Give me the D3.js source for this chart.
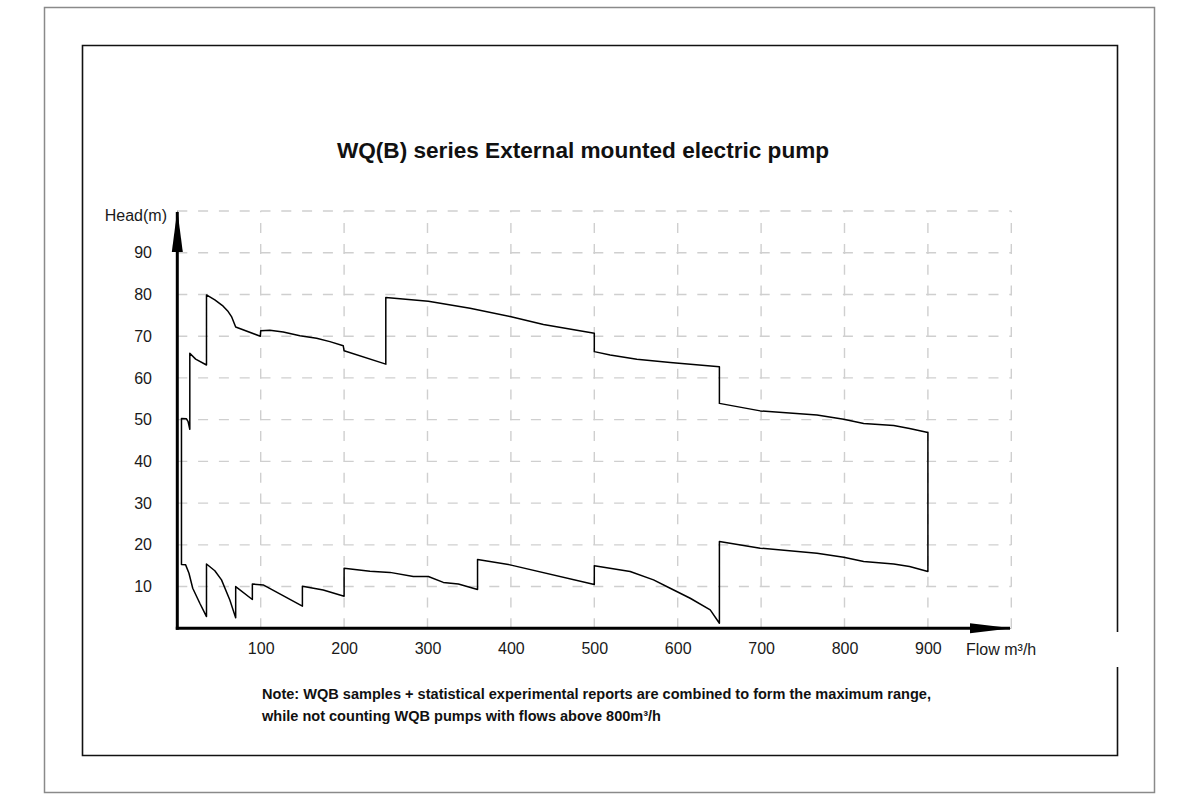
<!DOCTYPE html>
<html>
<head>
<meta charset="utf-8">
<script src="https://cdn.jsdelivr.net/npm/d3@7"></script>
<style>
  html, body { margin: 0; padding: 0; background: #fff; }
  svg { display: block; font-family: "Liberation Sans", Arial, sans-serif; }
</style>
</head>
<body>
<svg id="chart" width="1200" height="800"></svg>
<script>
// ---------- data ----------
const title = "WQ(B) series External mounted electric pump";
const noteLines = [
  "Note: WQB samples + statistical experimental reports are combined to form the maximum range,",
  "while not counting WQB pumps with flows above 800m³/h"
];
const xTicks = [100, 200, 300, 400, 500, 600, 700, 800, 900];
const yTicks = [10, 20, 30, 40, 50, 60, 70, 80, 90];
const xGrid = [100, 200, 300, 400, 500, 600, 700, 800, 900, 1000];
const yGrid = [10, 20, 30, 40, 50, 60, 70, 80, 90, 100];

// upper envelope (max head), left to right
const upperFlow = [5, 11, 13, 15, 15, 22, 35, 35, 45, 55, 61, 65, 70, 99.5, 100, 111, 127, 147, 167, 183, 199, 200, 250, 250, 301, 351, 399, 439, 500, 500, 519, 551, 591, 650, 650, 699, 767, 799, 823, 859, 878, 900];
const upperHead = [50.3, 50.2, 49.5, 47.7, 65.9, 64.5, 63.1, 79.9, 78.7, 77.2, 75.9, 74.7, 72.2, 70.0, 71.3, 71.4, 71.0, 70.1, 69.5, 68.7, 67.7, 66.5, 63.3, 79.3, 78.4, 76.7, 74.7, 72.8, 70.7, 66.3, 65.5, 64.5, 63.7, 62.7, 53.9, 52.1, 51.1, 50.1, 49.1, 48.6, 47.9, 46.9];

// lower envelope (min head), left to right
const lowerFlow = [5, 10, 14, 18.5, 27, 35, 35, 45, 53, 63, 70, 70, 90, 90, 103, 150, 150, 175, 200, 200, 231, 255, 283, 301, 319, 337, 360, 360, 399, 500, 500, 543, 571, 591, 615, 639, 650, 650, 699, 767, 799, 823, 859, 878, 900];
const lowerHead = [15.3, 15.2, 13.2, 9.6, 6.0, 2.8, 15.4, 13.8, 11.6, 6.8, 2.5, 10.0, 6.9, 10.6, 10.4, 5.3, 10.1, 9.2, 7.7, 14.4, 13.7, 13.4, 12.4, 12.4, 11.0, 10.6, 9.3, 16.5, 15.2, 10.5, 15.0, 13.6, 11.6, 9.6, 7.2, 4.4, 1.2, 20.8, 19.2, 18.0, 17.0, 16.0, 15.4, 14.8, 13.6];

// ---------- drawing ----------
const svg = d3.select("#chart");
svg.append("rect").attr("width", 1200).attr("height", 800).attr("fill", "#fff");

// frames
svg.append("rect").attr("x", 44.5).attr("y", 7.5).attr("width", 1110).attr("height", 785)
  .attr("fill", "none").attr("stroke", "#8a8a8a").attr("stroke-width", 1.5);
svg.append("path")
  .attr("d", "M1117.5,632 L1117.5,45.5 L82.5,45.5 L82.5,755.5 L1117.5,755.5 L1117.5,667")
  .attr("fill", "none").attr("stroke", "#111").attr("stroke-width", 1.6);

const x = d3.scaleLinear().domain([0, 1000]).range([177.3, 1011.3]);
const y = d3.scaleLinear().domain([0, 100]).range([628.3, 211]);

// grid
const grid = svg.append("g").attr("stroke", "#cfcfcf").attr("stroke-width", 1.4)
  .attr("stroke-dasharray", "10,10.8");
grid.selectAll("line.h").data(yGrid).join("line").attr("class", "h")
  .attr("x1", x(0)).attr("x2", x(1000)).attr("y1", d => y(d)).attr("y2", d => y(d));
grid.selectAll("line.v").data(xGrid).join("line").attr("class", "v")
  .attr("y1", y(0)).attr("y2", y(100)).attr("x1", d => x(d)).attr("x2", d => x(d));

// axes (labels via d3 axis generators)
const xAxis = svg.append("g").attr("transform", `translate(0,${y(0)})`)
  .call(d3.axisBottom(x).tickValues(xTicks).tickSize(0).tickPadding(14).tickFormat(d3.format("d")));
xAxis.select(".domain").remove();
xAxis.selectAll("text").attr("font-size", 16).attr("fill", "#1a1a1a")
  .attr("font-family", "Liberation Sans, Arial, sans-serif");

const yAxis = svg.append("g").attr("transform", `translate(152,0)`)
  .call(d3.axisLeft(y).tickValues(yTicks).tickSize(0).tickPadding(0).tickFormat(d3.format("d")));
yAxis.select(".domain").remove();
yAxis.selectAll("text").attr("font-size", 16).attr("fill", "#1a1a1a")
  .attr("font-family", "Liberation Sans, Arial, sans-serif");

// axis lines with arrows
svg.append("line").attr("x1", x(0)).attr("x2", x(0)).attr("y1", y(0) + 1.5).attr("y2", 212)
  .attr("stroke", "#000").attr("stroke-width", 3);
svg.append("path").attr("d", `M${x(0)},210 L${x(0) - 5.5},252 L${x(0) + 5.5},252 Z`).attr("fill", "#000");
svg.append("line").attr("x1", x(0) - 1.5).attr("x2", 1010).attr("y1", y(0)).attr("y2", y(0))
  .attr("stroke", "#000").attr("stroke-width", 3);
svg.append("path").attr("d", `M1012,${y(0)} L970,${y(0) - 5} L970,${y(0) + 5} Z`).attr("fill", "#000");

// axis titles
svg.append("text").attr("x", 167).attr("y", 221).attr("text-anchor", "end")
  .attr("font-size", 16).attr("fill", "#1a1a1a").text("Head(m)");
svg.append("text").attr("x", 966).attr("y", 655)
  .attr("font-size", 16).attr("fill", "#1a1a1a").text("Flow m³/h");

// envelope
const upper = upperFlow.map((f, i) => [f, upperHead[i]]);
const lower = lowerFlow.map((f, i) => [f, lowerHead[i]]);
const outline = upper.concat(lower.slice().reverse());
const line = d3.line().x(d => x(d[0])).y(d => y(d[1]));
svg.append("path").attr("d", line(outline) + "Z")
  .attr("fill", "none").attr("stroke", "#000").attr("stroke-width", 1.5).attr("stroke-linejoin", "round");

// title
svg.append("text").attr("x", 583).attr("y", 158).attr("text-anchor", "middle")
  .attr("font-size", 22.6).attr("font-weight", "bold").attr("fill", "#111").text(title);

// note
svg.selectAll("text.note").data(noteLines).join("text").attr("class", "note")
  .attr("x", 262).attr("y", (d, i) => 699 + i * 22)
  .attr("font-size", 14).attr("font-weight", "bold").attr("fill", "#111")
  .attr("textLength", (d, i) => i === 0 ? 669 : 399).attr("lengthAdjust", "spacingAndGlyphs")
  .text(d => d);
</script>
</body>
</html>
